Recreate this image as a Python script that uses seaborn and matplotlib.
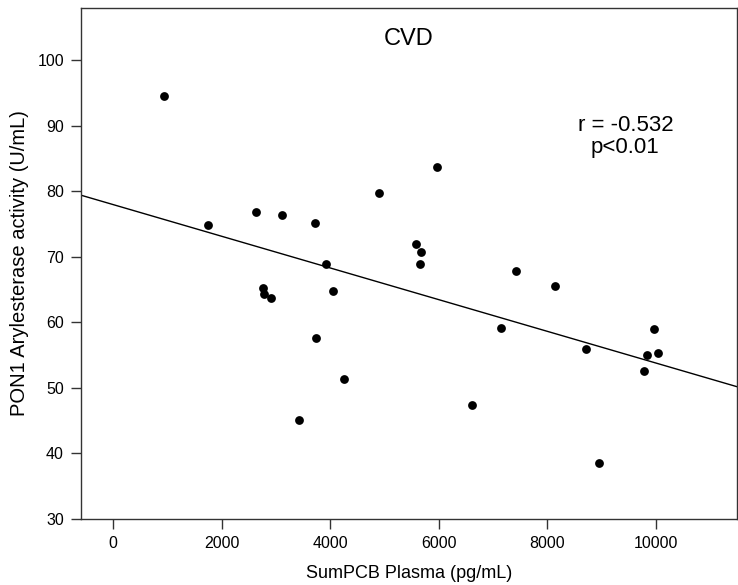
import pandas as pd
import matplotlib
matplotlib.use('Agg')
import matplotlib.pyplot as plt
import seaborn as sns

# values
sum_pcb = [933, 1748, 2626, 3117, 3724, 4895, 3920,
           5968, 5588, 5674, 5661, 7422,
           2766, 2779, 2902, 4055, 3730, 4263, 3417,
           8140, 7152, 6618,
           8710, 9973, 9844, 10035, 9788, 8949]
pon1 = [94.5, 74.9, 76.9, 76.4, 75.2, 79.8, 69.0,
        83.7, 72.0, 70.8, 68.9, 67.8,
        65.3, 64.4, 63.7, 64.8, 57.6, 51.3, 45.1,
        65.6, 59.1, 47.4,
        55.9, 59.0, 55.0, 55.4, 52.6, 38.5]

df = pd.DataFrame({'SumPCB': sum_pcb, 'PON1': pon1})

sns.set_style('white')
plt.rcParams['font.family'] = ['Liberation Sans', 'DejaVu Sans']
plt.rcParams['text.color'] = 'black'
plt.rcParams['axes.labelcolor'] = 'black'
plt.rcParams['xtick.color'] = 'black'
plt.rcParams['ytick.color'] = 'black'

fig = plt.figure(figsize=(7.38, 5.85), dpi=100)
ax = fig.add_axes([0.1093, 0.1128, 0.8893, 0.8735])
ax.set_xlim(-600, 11500)
ax.set_ylim(30, 108)

sns.regplot(data=df, x='SumPCB', y='PON1', ax=ax, ci=None, truncate=False,
            scatter_kws={'s': 40, 'color': 'black', 'alpha': 1, 'linewidths': 0},
            line_kws={'color': 'black', 'linewidth': 1.0})

ax.set_xlim(-600, 11500)
ax.set_ylim(30, 108)
ax.set_xticks([0, 2000, 4000, 6000, 8000, 10000])
ax.set_yticks([30, 40, 50, 60, 70, 80, 90, 100])

for sp in ax.spines.values():
    sp.set_visible(True)
    sp.set_color('#333333')
    sp.set_linewidth(1.0)

ax.tick_params(axis='both', which='major', direction='out', length=7, width=1.0,
               color='#333333', labelsize=11.5, pad=5,
               bottom=True, left=True, top=False, right=False)

ax.set_xlabel('SumPCB Plasma (pg/mL)', fontsize=13, labelpad=10)
ax.set_ylabel('PON1 Arylesterase activity (U/mL)', fontsize=14.5, labelpad=6)

ax.text(0.5, 0.94, 'CVD', transform=ax.transAxes, ha='center', va='center', fontsize=17)
ax.text(0.83, 0.748, 'r = -0.532\np<0.01', transform=ax.transAxes, ha='center', va='center',
        fontsize=16, linespacing=1.05)

fig.savefig('out.png', dpi=100)
